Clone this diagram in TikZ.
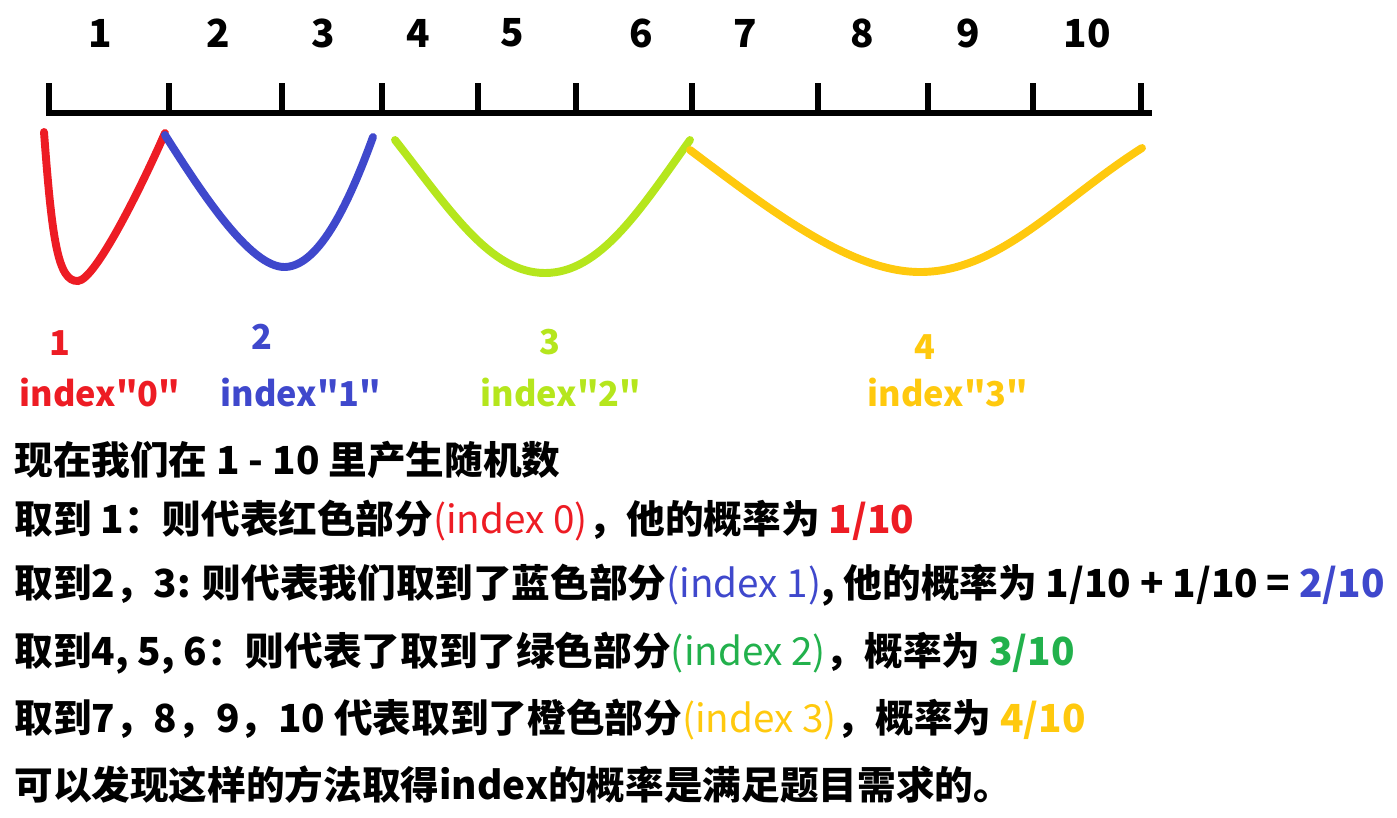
\documentclass[tikz,border=0pt]{standalone}
\usepackage{fontspec}
\setmainfont{Noto Sans CJK SC}
\definecolor{cred}{HTML}{ED1C24}
\definecolor{cblue}{HTML}{3F48CC}
\definecolor{clime}{HTML}{B5E61D}
\definecolor{cgreen}{HTML}{22B14C}
\definecolor{corange}{HTML}{FFC90E}
\newcommand\qm{\XeTeXglyph\XeTeXcharglyph"22\relax}
\tikzset{
  arc/.style={line width=4.5pt, line cap=round},
  num/.style={font=\fontsize{22}{26}\selectfont\bfseries},
  lab/.style={font=\fontsize{19.5}{22}\selectfont\bfseries},
  txt/.style={anchor=west, inner sep=0pt, font=\fontsize{22}{26}\selectfont\bfseries}
}
\begin{document}
\begin{tikzpicture}[x=0.02cm, y=-0.02cm]
      \useasboundingbox (0,0) rectangle (1397,818);
      % ruler
      \foreach \x [count=\i] in {49,169,282,382,478,576,692,818,928,1033,1141} {
        \coordinate (t\i) at (\x,83);
        \coordinate (b\i) at (\x,113);
        \draw[line width=3.4pt] (t\i) -- (b\i);
      }
      \draw[line width=3.4pt] (46,113) -- (1152,113);
      \foreach \x [count=\i] in {100,218,323,418,512,641,745,862,968,1087} {
        \node[num] (n\i) at (\x,33) {\i};
      }
      % curves
      \coordinate (r1) at (44,132);
      \coordinate (r2) at (78,281);
      \coordinate (r3) at (165,133);
      \coordinate (u1) at (165,135);
      \coordinate (u2) at (285,267);
      \coordinate (u3) at (373,137);
      \coordinate (g1) at (395,140);
      \coordinate (g2) at (545,273);
      \coordinate (g3) at (690,140);
      \coordinate (o1) at (690,150);
      \coordinate (o2) at (920,272);
      \coordinate (o3) at (1142,148);
      \draw[arc, cred] (r1) .. controls (52,240) and (58,282) .. (r2) .. controls (95,280) and (140,190) .. (r3);
      \draw[arc, cblue] (u1) .. controls (200,190) and (250,268) .. (u2) .. controls (320,266) and (350,200) .. (u3);
      \draw[arc, clime] (g1) .. controls (450,210) and (490,273) .. (g2) .. controls (600,273) and (640,210) .. (g3);
      \draw[arc, corange] (o1) .. controls (770,210) and (850,272) .. (o2) .. controls (1000,272) and (1060,200) .. (o3);
      % labels
      \node[lab, cred] (c1) at (60,343) {1};
      \node[lab, cred] (i1) at (100,393) {index\qm0\qm};
      \node[lab, cblue] (c2) at (262,337) {2};
      \node[lab, cblue] (i2) at (301,393) {index\qm1\qm};
      \node[lab, clime] (c3) at (550,342) {3};
      \node[lab, clime] (i3) at (561,393) {index\qm2\qm};
      \node[lab, corange] (c4) at (925,347) {4};
      \node[lab, corange] (i4) at (948,393) {index\qm3\qm};
      % text
      \node[txt] (l1) at (14,460) {现在我们在 1 - 10 里产生随机数};
      \node[txt] (l2) at (14,521) {取到 1：则代表红色部分\textcolor{cred}{\mdseries(index 0)}，他的概率为 \textcolor{cred}{1/10}};
      \node[txt] (l3) at (14,585) {取到2，3: 则代表我们取到了蓝色部分\textcolor{cblue}{\mdseries(index 1)}, 他的概率为 1/10 + 1/10 = \textcolor{cblue}{2/10}};
      \node[txt] (l4) at (14,653) {取到4, 5, 6：则代表了取到了绿色部分\textcolor{cgreen}{\mdseries(index 2)}，概率为 \textcolor{cgreen}{3/10}};
      \node[txt] (l5) at (14,720) {取到7，8，9，10 代表取到了橙色部分\textcolor{corange}{\mdseries(index 3)}，概率为 \textcolor{corange}{4/10}};
      \node[txt] (l6) at (14,785) {可以发现这样的方法取得index的概率是满足题目需求的。};
\end{tikzpicture}
\end{document}
